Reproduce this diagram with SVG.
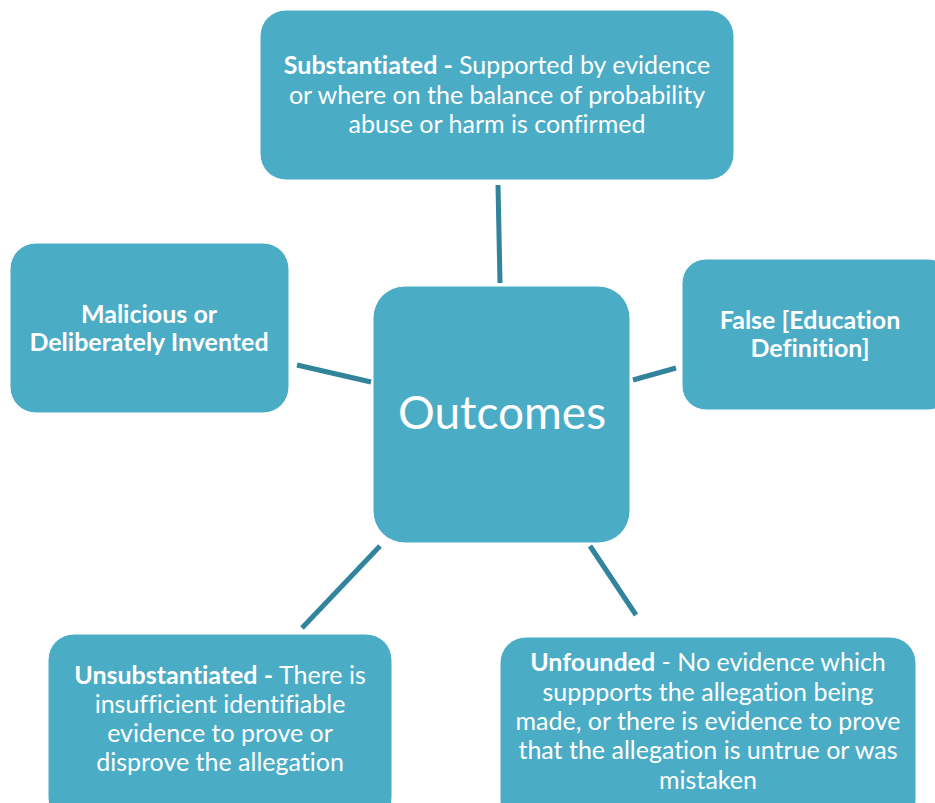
<svg xmlns="http://www.w3.org/2000/svg" width="935" height="803" viewBox="0 0 935 803">
<style>
.box{fill:#4BACC6;stroke:#ffffff;stroke-width:1}
.t{font-family:Lato,"Liberation Sans",sans-serif;font-size:25px;fill:#ffffff;text-anchor:middle;font-variant-ligatures:none}
.b{font-weight:bold}
.con{stroke:#31849B;stroke-width:5;fill:none}
</style>
<rect width="935" height="803" fill="#ffffff"/>
<g id="connectors">
<line class="con" x1="498" y1="185" x2="500" y2="283"/>
<line class="con" x1="297" y1="365" x2="371" y2="382"/>
<line class="con" x1="633" y1="380" x2="676" y2="368"/>
<line class="con" x1="380" y1="546" x2="302" y2="628"/>
<line class="con" x1="590" y1="546" x2="636" y2="615"/>
</g>
<g id="center">
<rect class="box" x="373" y="286" width="257" height="257" rx="32"/>
<text class="t" x="502" y="429" style="font-size:46px">Outcomes</text>
</g>
<g id="substantiated">
<rect class="box" x="260" y="10" width="474" height="170" rx="26"/>
<text class="t" x="497" y="74"><tspan class="b">Substantiated - </tspan>Supported by evidence</text>
<text class="t" x="497" y="104">or where on the balance of probability</text>
<text class="t" x="497" y="133">abuse or harm is confirmed</text>
</g>
<g id="malicious">
<rect class="box" x="10" y="243" width="279" height="170" rx="26"/>
<text class="t b" x="149" y="323">Malicious or</text>
<text class="t b" x="149" y="351">Deliberately Invented</text>
</g>
<g id="false">
<rect class="box" x="682" y="259" width="270" height="151" rx="24"/>
<text class="t b" x="810" y="329">False [Education</text>
<text class="t b" x="810" y="357">Definition]</text>
</g>
<g id="unsubstantiated">
<rect class="box" x="48" y="634" width="344" height="190" rx="26"/>
<text class="t" x="220" y="684"><tspan class="b">Unsubstantiated - </tspan>There is</text>
<text class="t" x="220" y="713">insufficient identifiable</text>
<text class="t" x="220" y="742">evidence to prove or</text>
<text class="t" x="220" y="771">disprove the allegation</text>
</g>
<g id="unfounded">
<rect class="box" x="500" y="637" width="416" height="190" rx="26"/>
<text class="t" x="708" y="671"><tspan class="b">Unfounded</tspan> - No evidence which</text>
<text class="t" x="708" y="701">suppports the allegation being</text>
<text class="t" x="708" y="730">made, or there is evidence to prove</text>
<text class="t" x="708" y="759">that the allegation is untrue or was</text>
<text class="t" x="708" y="789">mistaken</text>
</g>
</svg>
